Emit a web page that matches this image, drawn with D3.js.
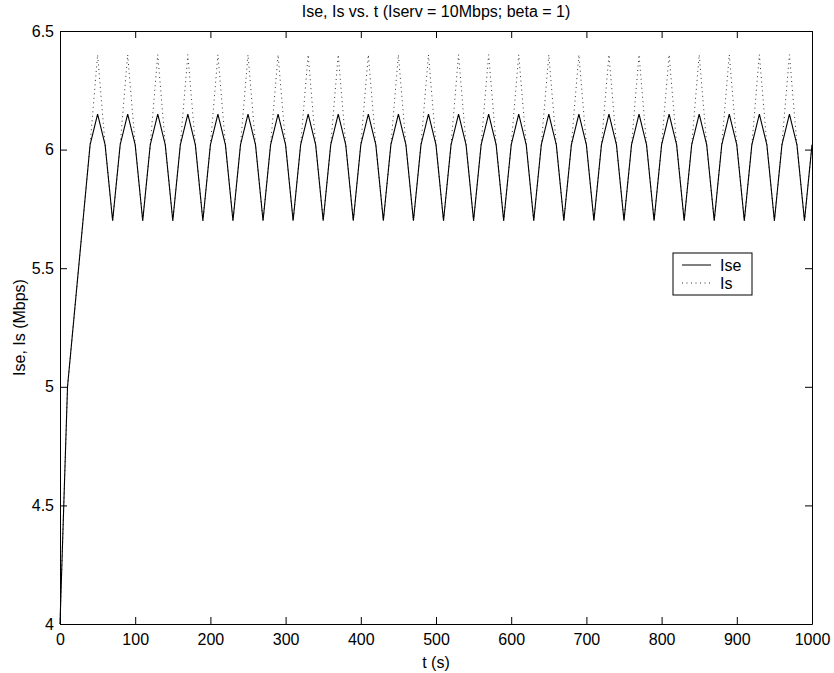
<!DOCTYPE html>
<html>
<head>
<meta charset="utf-8">
<script src="https://cdn.jsdelivr.net/npm/d3@7"></script>
<style>
  html, body { margin: 0; padding: 0; background: #fff; }
  svg { display: block; }
  text { font-family: "Liberation Sans", Arial, Helvetica, sans-serif; fill: #000; }
</style>
</head>
<body>
<svg id="chart" width="834" height="673"></svg>
<script>
// Sample times (s)
const times = [
  0, 10, 20, 30, 40, 50, 60, 70, 80, 90,
  100, 110, 120, 130, 140, 150, 160, 170, 180, 190,
  200, 210, 220, 230, 240, 250, 260, 270, 280, 290,
  300, 310, 320, 330, 340, 350, 360, 370, 380, 390,
  400, 410, 420, 430, 440, 450, 460, 470, 480, 490,
  500, 510, 520, 530, 540, 550, 560, 570, 580, 590,
  600, 610, 620, 630, 640, 650, 660, 670, 680, 690,
  700, 710, 720, 730, 740, 750, 760, 770, 780, 790,
  800, 810, 820, 830, 840, 850, 860, 870, 880, 890,
  900, 910, 920, 930, 940, 950, 960, 970, 980, 990,
  1000
];

// Ise (Mbps), one row per 80 s from t = 40
const iseValues = [
  4.00, 5.00, 5.34, 5.68,
  6.02, 6.15, 6.02, 5.70, 6.02, 6.15, 6.02, 5.70,
  6.02, 6.15, 6.02, 5.70, 6.02, 6.15, 6.02, 5.70,
  6.02, 6.15, 6.02, 5.70, 6.02, 6.15, 6.02, 5.70,
  6.02, 6.15, 6.02, 5.70, 6.02, 6.15, 6.02, 5.70,
  6.02, 6.15, 6.02, 5.70, 6.02, 6.15, 6.02, 5.70,
  6.02, 6.15, 6.02, 5.70, 6.02, 6.15, 6.02, 5.70,
  6.02, 6.15, 6.02, 5.70, 6.02, 6.15, 6.02, 5.70,
  6.02, 6.15, 6.02, 5.70, 6.02, 6.15, 6.02, 5.70,
  6.02, 6.15, 6.02, 5.70, 6.02, 6.15, 6.02, 5.70,
  6.02, 6.15, 6.02, 5.70, 6.02, 6.15, 6.02, 5.70,
  6.02, 6.15, 6.02, 5.70, 6.02, 6.15, 6.02, 5.70,
  6.02, 6.15, 6.02, 5.70, 6.02, 6.15, 6.02, 5.70,
  6.02
];

// Is (Mbps), one row per 80 s from t = 40
const isValues = [
  4.00, 5.00, 5.34, 5.68,
  6.02, 6.40, 6.02, 5.70, 6.02, 6.40, 6.02, 5.70,
  6.02, 6.40, 6.02, 5.70, 6.02, 6.40, 6.02, 5.70,
  6.02, 6.40, 6.02, 5.70, 6.02, 6.40, 6.02, 5.70,
  6.02, 6.40, 6.02, 5.70, 6.02, 6.40, 6.02, 5.70,
  6.02, 6.40, 6.02, 5.70, 6.02, 6.40, 6.02, 5.70,
  6.02, 6.40, 6.02, 5.70, 6.02, 6.40, 6.02, 5.70,
  6.02, 6.40, 6.02, 5.70, 6.02, 6.40, 6.02, 5.70,
  6.02, 6.40, 6.02, 5.70, 6.02, 6.40, 6.02, 5.70,
  6.02, 6.40, 6.02, 5.70, 6.02, 6.40, 6.02, 5.70,
  6.02, 6.40, 6.02, 5.70, 6.02, 6.40, 6.02, 5.70,
  6.02, 6.40, 6.02, 5.70, 6.02, 6.40, 6.02, 5.70,
  6.02, 6.40, 6.02, 5.70, 6.02, 6.40, 6.02, 5.70,
  6.02
];

const xTicks = [0, 100, 200, 300, 400, 500, 600, 700, 800, 900, 1000];
const yTicks = [4, 4.5, 5, 5.5, 6, 6.5];

const titleText = "Ise, Is vs. t (Iserv = 10Mbps; beta = 1)";
const xLabel = "t (s)";
const yLabel = "Ise, Is (Mbps)";
const seriesNames = ["Ise", "Is"];

const W = 834, H = 673;
const margin = { left: 60, top: 31, right: 22, bottom: 49 };
const iw = W - margin.left - margin.right;
const ih = H - margin.top - margin.bottom;
const fontSize = 16;

const svg = d3.select("#chart");
const g = svg.append("g").attr("transform", `translate(${margin.left},${margin.top})`);

const x = d3.scaleLinear().domain([0, 1000]).range([0, iw]);
const y = d3.scaleLinear().domain([4, 6.5]).range([ih, 0]);

const fmt = d => String(d);
const tickLen = 7;

// Axes with inward ticks on all four sides
const axisStyle = sel => {
  sel.select(".domain").attr("stroke", "#000").attr("stroke-width", 1);
  sel.selectAll(".tick line").attr("stroke", "#000").attr("stroke-width", 1);
  sel.selectAll(".tick text").attr("font-size", fontSize)
    .style("font-family", "'Liberation Sans', Arial, sans-serif");
};

g.append("g").attr("transform", `translate(0,${ih})`)
  .call(d3.axisBottom(x).tickValues(xTicks).tickFormat(fmt).tickSizeInner(-tickLen).tickSizeOuter(0))
  .call(axisStyle)
  .call(s => s.selectAll(".tick text").attr("y", 21).attr("dy", 0));

g.append("g")
  .call(d3.axisTop(x).tickValues(xTicks).tickFormat("").tickSizeInner(-tickLen).tickSizeOuter(0))
  .call(axisStyle);

g.append("g")
  .call(d3.axisLeft(y).tickValues(yTicks).tickFormat(fmt).tickSizeInner(-tickLen).tickSizeOuter(0).tickPadding(6))
  .call(axisStyle);

g.append("g").attr("transform", `translate(${iw},0)`)
  .call(d3.axisRight(y).tickValues(yTicks).tickFormat("").tickSizeInner(-tickLen).tickSizeOuter(0))
  .call(axisStyle);

// Series lines
const line = vals => d3.line()
  .x((d, i) => x(times[i]))
  .y(d => y(d))(vals);

g.append("path")
  .attr("d", line(isValues))
  .attr("fill", "none")
  .attr("stroke", "#333")
  .attr("stroke-width", 1)
  .attr("stroke-dasharray", "1,3.5");

g.append("path")
  .attr("d", line(iseValues))
  .attr("fill", "none")
  .attr("stroke", "#000")
  .attr("stroke-width", 1.1)
  .attr("stroke-linejoin", "miter");

// Title and axis labels
svg.append("text")
  .attr("x", margin.left + iw / 2).attr("y", 17)
  .attr("text-anchor", "middle").attr("font-size", fontSize)
  .text(titleText);

svg.append("text")
  .attr("x", margin.left + iw / 2).attr("y", 668)
  .attr("text-anchor", "middle").attr("font-size", fontSize)
  .text(xLabel);

svg.append("text")
  .attr("transform", `translate(25,${margin.top + ih / 2}) rotate(-90)`)
  .attr("text-anchor", "middle").attr("font-size", fontSize)
  .text(yLabel);

// Legend
const legend = svg.append("g").attr("transform", "translate(673,253)");
legend.append("rect")
  .attr("width", 79).attr("height", 42)
  .attr("fill", "#fff").attr("stroke", "#000").attr("stroke-width", 1);
const legendStyles = [
  { dash: null, stroke: "#000" },
  { dash: "1,3.5", stroke: "#333" }
];
seriesNames.forEach((name, i) => {
  const yy = 12 + i * 18;
  legend.append("line")
    .attr("x1", 9).attr("x2", 38).attr("y1", yy).attr("y2", yy)
    .attr("stroke", legendStyles[i].stroke).attr("stroke-width", 1)
    .attr("stroke-dasharray", legendStyles[i].dash);
  legend.append("text")
    .attr("x", 47).attr("y", yy).attr("dy", "0.35em")
    .attr("font-size", fontSize)
    .text(name);
});
</script>
</body>
</html>
